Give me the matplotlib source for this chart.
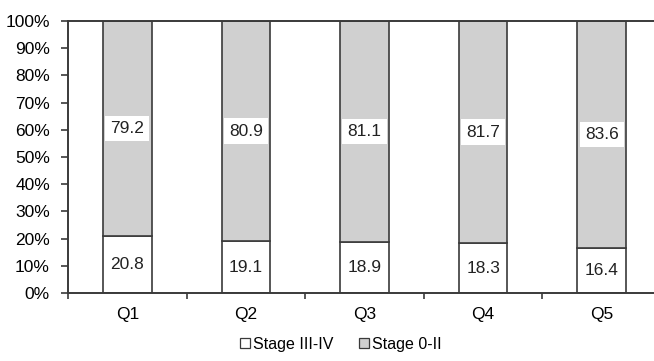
import numpy as np
import matplotlib.pyplot as plt
from matplotlib.patches import Patch

# Stage distribution by quintile (%)
quintiles = ["Q1", "Q2", "Q3", "Q4", "Q5"]
late_stage = [20.8, 19.1, 18.9, 18.3, 16.4]    # Stage III-IV
early_stage = [79.2, 80.9, 81.1, 81.7, 83.6]   # Stage 0-II

plt.rcParams["font.family"] = ["Liberation Sans", "DejaVu Sans"]
plt.rcParams["font.size"] = 12.5

fig = plt.figure(figsize=(6.54, 3.61), dpi=100)
ax = fig.add_axes([68 / 654, 1 - 293 / 361, 593 / 654, 272 / 361])

x = np.arange(len(quintiles))
width = 0.41
edge = "#3a3a3a"

ax.bar(x, late_stage, width, color="white", edgecolor=edge, linewidth=1.2,
       label="Stage III-IV")
ax.bar(x, early_stage, width, bottom=late_stage, color="#d0d0d0",
       edgecolor=edge, linewidth=1.2, label="Stage 0-II")

# Value labels in the middle of each segment
for i in range(len(quintiles)):
    ax.text(x[i], late_stage[i] / 2, f"{late_stage[i]:.1f}",
            ha="center", va="center", color="#222222")
    ax.text(x[i], late_stage[i] + early_stage[i] / 2, f"{early_stage[i]:.1f}",
            ha="center", va="center", color="#222222",
            bbox=dict(boxstyle="square,pad=0.3", facecolor="white",
                      edgecolor="none"))

ax.set_xlim(-0.5, len(quintiles) - 0.5)
ax.set_ylim(0, 100)
ax.set_yticks(np.arange(0, 101, 10))
ax.set_yticklabels([f"{v}%" for v in range(0, 101, 10)])

# Category labels centered, tick marks on the category boundaries
ax.set_xticks(np.arange(-0.5, len(quintiles), 1.0))
ax.set_xticklabels([])
ax.set_xticks(x, minor=True)
ax.set_xticklabels(quintiles, minor=True)
ax.tick_params(axis="x", which="minor", length=0, pad=10)
ax.tick_params(axis="x", which="major", length=4, width=1.2, color=edge)
ax.tick_params(axis="y", length=5, width=1.2, color=edge, pad=8)

for side in ["left", "bottom", "top"]:
    ax.spines[side].set_color(edge)
    ax.spines[side].set_linewidth(1.4)
ax.spines["right"].set_visible(False)

handles = [Patch(facecolor="white", edgecolor=edge, linewidth=0.9),
           Patch(facecolor="#d0d0d0", edgecolor=edge, linewidth=0.9)]
fig.legend(handles, ["Stage III-IV", "Stage 0-II"], loc="center",
           bbox_to_anchor=(341 / 654, 1 - 344 / 361), ncol=2, frameon=False,
           fontsize=11.5, handlelength=0.6, handleheight=0.6,
           handletextpad=0.2, columnspacing=1.6)

fig.savefig("out.png", dpi=100)
